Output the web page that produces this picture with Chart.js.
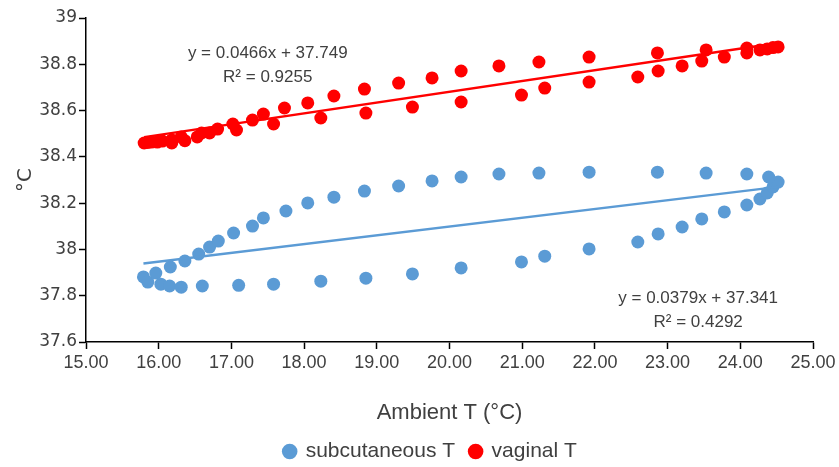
<!DOCTYPE html>
<html>
<head>
<meta charset="utf-8">
<script src="https://cdn.jsdelivr.net/npm/chart.js@4/dist/chart.umd.min.js"></script>
<style>
  html, body { margin: 0; padding: 0; background: #fff; }
  #wrap { width: 839px; height: 467px; }
</style>
</head>
<body>
<div id="wrap"><canvas id="c" width="839" height="467"></canvas></div>
<script>
const subX = [15.79, 15.85, 15.96, 16.03, 16.15, 16.31, 16.60, 17.10, 17.58, 18.23, 18.85, 19.49, 20.16, 20.99, 21.31, 21.92, 22.59, 22.87, 23.20, 23.47, 23.78, 24.09, 24.27, 24.37, 24.45, 24.52,
              16.16, 16.36, 16.55, 16.70, 16.82, 17.03, 17.29, 17.44, 17.75, 18.05, 18.41, 18.83, 19.30, 19.76, 20.16, 20.68, 21.23, 21.92, 22.86, 23.53, 24.09, 24.39];
const subY = [37.881, 37.859, 37.898, 37.850, 37.842, 37.837, 37.842, 37.845, 37.850, 37.863, 37.876, 37.894, 37.920, 37.946, 37.971, 38.002, 38.032, 38.067, 38.097, 38.132, 38.162, 38.192, 38.218, 38.244, 38.270, 38.291,
              37.924, 37.950, 37.980, 38.010, 38.036, 38.071, 38.101, 38.136, 38.166, 38.201, 38.226, 38.252, 38.274, 38.296, 38.313, 38.326, 38.330, 38.334, 38.334, 38.330, 38.326, 38.313];

const vagX = [15.80, 15.85, 15.90, 15.98, 16.05, 16.18, 16.18, 16.31, 16.36, 16.53, 16.59, 16.70, 16.81, 17.02, 17.07, 17.29, 17.44, 17.58, 17.73,
              18.05, 18.23, 18.41, 18.83, 18.85, 19.30, 19.49, 19.76, 20.16, 20.16, 20.68, 20.99, 21.23, 21.31, 21.92, 21.92, 22.59, 22.86, 22.87, 23.20, 23.47, 23.53, 23.78, 24.09, 24.09, 24.27, 24.37, 24.45, 24.52];
const vagY = [38.460, 38.462, 38.464, 38.464, 38.468, 38.473, 38.460, 38.486, 38.470, 38.486, 38.503, 38.503, 38.520, 38.542, 38.516, 38.559, 38.585, 38.542, 38.611,
              38.633, 38.568, 38.663, 38.693, 38.589, 38.719, 38.615, 38.741, 38.771, 38.637, 38.793, 38.667, 38.810, 38.697, 38.831, 38.723, 38.745, 38.849, 38.771, 38.793, 38.814, 38.862, 38.831, 38.870, 38.849, 38.862, 38.866, 38.872, 38.875];

// linear trendlines as printed on the chart
const subFit = { slope: 0.0379, icpt: 37.341, from: 15.79, to: 24.52, r2: '0.4292' };
const vagFit = { slope: 0.0466, icpt: 37.749, from: 15.80, to: 24.52, r2: '0.9255' };

const xTicks = [15, 16, 17, 18, 19, 20, 21, 22, 23, 24, 25];
const yTicks = [37.6, 37.8, 38, 38.2, 38.4, 38.6, 38.8, 39];

const BLUE = '#5b9bd5';
const RED = '#ff0000';
const TEXT = '#404040';
const SANS = "'Liberation Sans', sans-serif";

function pts(xs, ys) { return xs.map((x, i) => ({ x: x, y: ys[i] })); }
function fitLine(f) {
  return [f.from, f.to].map(x => ({ x: x, y: f.slope * x + f.icpt }));
}

// equation labels, anchored in data units
const eqLabels = {
  id: 'eqLabels',
  afterLayout(chart) {
    // legend sits a bit right of centre in the original
    chart.legend.left += 48;
  },
  afterDatasetsDraw(chart) {
    const ctx = chart.ctx, xs = chart.scales.x, ys = chart.scales.y;
    ctx.save();
    ctx.font = '17px ' + SANS;
    ctx.fillStyle = TEXT;
    ctx.textAlign = 'center';
    ctx.textBaseline = 'middle';
    const put = (f, x, y1, y2) => {
      ctx.fillText('y = ' + f.slope + 'x + ' + f.icpt, xs.getPixelForValue(x), ys.getPixelForValue(y1));
      ctx.fillText('R² = ' + f.r2, xs.getPixelForValue(x), ys.getPixelForValue(y2));
    };
    put(vagFit, 17.50, 38.849, 38.745);
    put(subFit, 23.42, 37.790, 37.686);
    ctx.restore();
  }
};

new Chart(document.getElementById('c'), {
  type: 'scatter',
  data: {
    datasets: [
      { label: 'subcutaneous T', data: pts(subX, subY), backgroundColor: BLUE, borderColor: BLUE,
        pointRadius: 6.5, pointBorderWidth: 0, order: 2 },
      { label: 'vaginal T', data: pts(vagX, vagY), backgroundColor: RED, borderColor: RED,
        pointRadius: 6.5, pointBorderWidth: 0, order: 2 },
      { label: 'trend sub', type: 'line', data: fitLine(subFit), borderColor: BLUE, borderWidth: 2.5,
        pointRadius: 0, fill: false, order: 1 },
      { label: 'trend vag', type: 'line', data: fitLine(vagFit), borderColor: RED, borderWidth: 2.5,
        pointRadius: 0, fill: false, order: 1 }
    ]
  },
  options: {
    responsive: false,
    animation: false,
    layout: { padding: { top: 18, right: 26, left: 0, bottom: -5 } },
    plugins: {
      tooltip: { enabled: false },
      legend: {
        position: 'bottom',
        labels: {
          filter: item => !item.text.startsWith('trend'),
          usePointStyle: true,
          pointStyle: 'circle',
          boxWidth: 11,
          boxHeight: 11,
          padding: 15,
          color: TEXT,
          font: { size: 21, family: SANS }
        }
      }
    },
    scales: {
      x: {
        type: 'linear',
        min: 15, max: 25,
        afterBuildTicks: s => { s.ticks = xTicks.map(v => ({ value: v })); },
        afterFit: s => { s.height = 84; },
        grid: { drawOnChartArea: false, drawTicks: true, tickLength: 7, color: '#000', tickWidth: 1.5 },
        border: { display: true, color: '#000', width: 1.5 },
        ticks: { color: TEXT, font: { size: 18, family: SANS }, padding: 3, maxRotation: 0,
                 callback: v => v.toFixed(2) },
        title: { display: true, text: 'Ambient T (°C)', color: TEXT, font: { size: 22, family: SANS },
                 padding: { top: 22, bottom: 0 } }
      },
      y: {
        type: 'linear',
        min: 37.6, max: 39,
        afterBuildTicks: s => { s.ticks = yTicks.map(v => ({ value: v })); },
        afterFit: s => { s.width = 86; },
        grid: { drawOnChartArea: false, drawTicks: true, tickLength: 7, color: '#000', tickWidth: 1.5 },
        border: { display: true, color: '#000', width: 1.5 },
        ticks: { color: TEXT, font: { size: 17, family: "'DejaVu Sans', sans-serif" }, padding: 2,
                 callback: v => String(Number(v.toFixed(1))) },
        title: { display: true, text: '°C', color: TEXT, font: { size: 20, family: "'DejaVu Sans', sans-serif" },
                 padding: { top: 14, bottom: 4 } }
      }
    }
  },
  plugins: [eqLabels]
});
</script>
</body>
</html>
